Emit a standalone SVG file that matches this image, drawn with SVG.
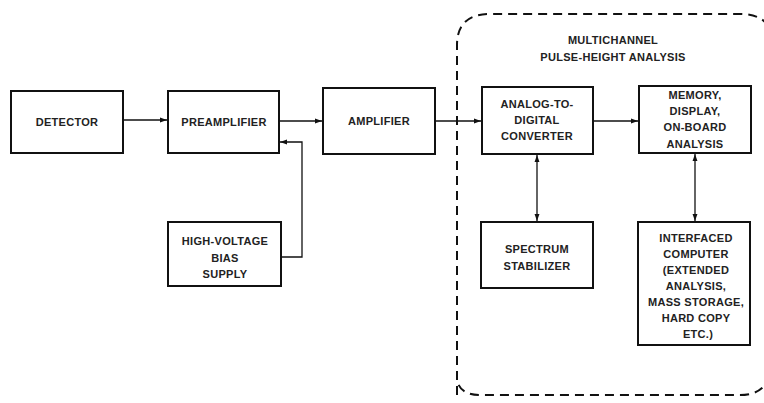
<svg xmlns="http://www.w3.org/2000/svg" width="764" height="403" viewBox="0 0 764 403">
<defs>
<marker id="ah" viewBox="0 0 10 10" refX="10" refY="5" markerWidth="7" markerHeight="7" orient="auto-start-reverse" markerUnits="userSpaceOnUse">
<path d="M0,1.5 L10,5 L0,8.5 z" fill="#111"/>
</marker>
<style>
.box{fill:#fff;stroke:#111;stroke-width:2}
.t{font-family:"Liberation Sans",Arial,sans-serif;font-size:11px;font-weight:bold;fill:#222;text-anchor:middle;letter-spacing:0.3px}
.c{fill:none;stroke:#111;stroke-width:1.3}
</style>
</defs>
<rect width="764" height="403" fill="#fff"/>
<path id="boundary" d="M457,395 L457,45 Q457,14 490,14 L740,14 Q764,14 770,30 M770,375 Q764,395 740,395 L480,395 Q460,395 457,380" fill="none" stroke="#111" stroke-width="2" stroke-dasharray="9,6"/>
<text class="t" x="613" y="44">MULTICHANNEL</text>
<text class="t" x="613" y="61">PULSE-HEIGHT ANALYSIS</text>
<g id="detector"><rect class="box" x="11" y="91" width="112" height="62"/><text class="t" x="67" y="126">DETECTOR</text></g>
<g id="preamplifier"><rect class="box" x="168" y="91" width="111" height="62"/><text class="t" x="224" y="126">PREAMPLIFIER</text></g>
<g id="amplifier"><rect class="box" x="323" y="88" width="112" height="66"/><text class="t" x="379" y="125">AMPLIFIER</text></g>
<g id="adc"><rect class="box" x="482" y="87" width="111" height="67"/><text class="t" x="537" y="108">ANALOG-TO-</text><text class="t" x="537" y="124">DIGITAL</text><text class="t" x="537" y="140">CONVERTER</text></g>
<g id="memory"><rect class="box" x="639" y="86" width="112" height="67"/><text class="t" x="695" y="99">MEMORY,</text><text class="t" x="695" y="115">DISPLAY,</text><text class="t" x="695" y="131">ON-BOARD</text><text class="t" x="695" y="148">ANALYSIS</text></g>
<g id="hv"><rect class="box" x="168" y="222" width="113" height="64"/><text class="t" x="225" y="245">HIGH-VOLTAGE</text><text class="t" x="225" y="262">BIAS</text><text class="t" x="225" y="278">SUPPLY</text></g>
<g id="stabilizer"><rect class="box" x="481" y="222" width="112" height="66"/><text class="t" x="537" y="253">SPECTRUM</text><text class="t" x="537" y="270">STABILIZER</text></g>
<g id="computer"><rect class="box" x="638" y="222" width="112" height="123"/><text class="t" x="696" y="242">INTERFACED</text><text class="t" x="696" y="258">COMPUTER</text><text class="t" x="696" y="274">(EXTENDED</text><text class="t" x="696" y="290">ANALYSIS,</text><text class="t" x="696" y="306">MASS STORAGE,</text><text class="t" x="696" y="322">HARD COPY</text><text class="t" x="698" y="338">ETC.)</text></g>
<g id="connectors">
<path class="c" d="M123,120 L167,120" marker-end="url(#ah)"/>
<path class="c" d="M279,121 L322,121" marker-end="url(#ah)"/>
<path class="c" d="M435,121 L481,121" marker-end="url(#ah)"/>
<path class="c" d="M593,121 L638,121" marker-end="url(#ah)"/>
<path class="c" d="M281,257 L302,257 L302,142 L280,142" marker-end="url(#ah)"/>
<path class="c" d="M537,155 L537,221" marker-start="url(#ah)" marker-end="url(#ah)"/>
<path class="c" d="M695,154 L695,221" marker-start="url(#ah)" marker-end="url(#ah)"/>
</g>
</svg>
